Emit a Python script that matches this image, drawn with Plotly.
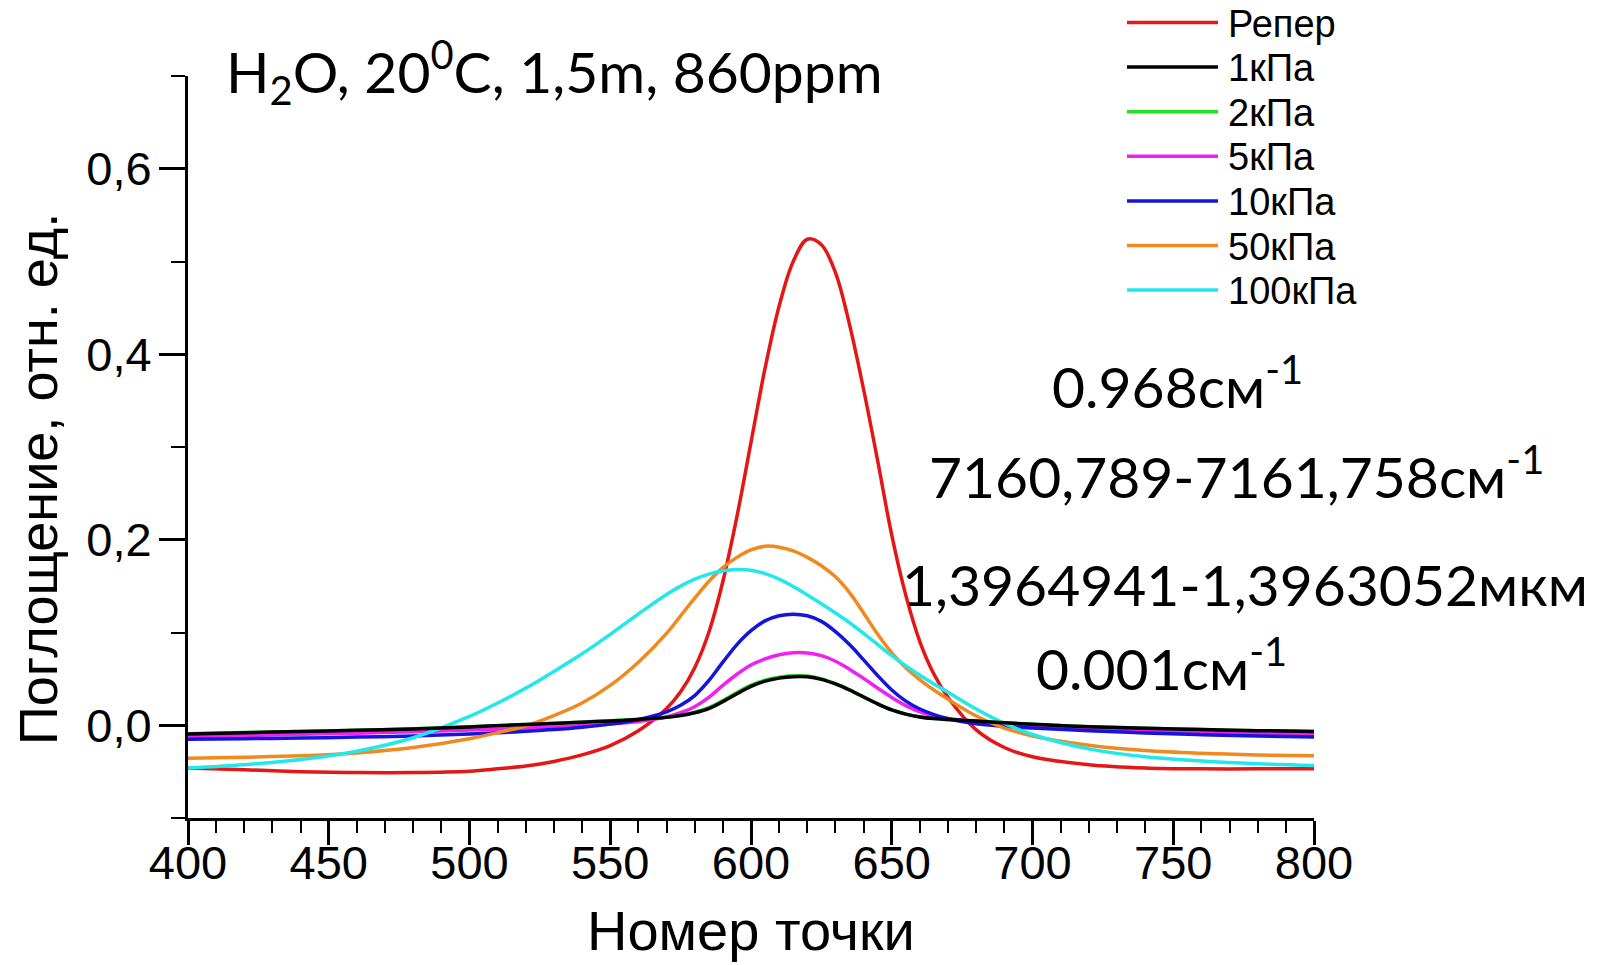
import plotly.graph_objects as go

# Номер точки (x) sample positions
point = [400, 420, 440, 460, 480, 500, 510, 520, 530, 540, 550, 560, 570, 575, 580,
         585, 590, 595, 600, 605, 610, 615, 620, 625, 630, 635, 640, 645, 650, 655,
         660, 665, 670, 680, 690, 700, 720, 740, 760, 780, 800]

reper = [-0.0460, -0.0480, -0.0500, -0.0510, -0.0510, -0.0495, -0.0470, -0.0440, -0.0390, -0.0320,
         -0.0220, -0.0060, 0.0180, 0.0360, 0.0620, 0.1000, 0.1550, 0.2250, 0.3050, 0.3850,
         0.4520, 0.5000, 0.5240, 0.5180, 0.4880, 0.4320, 0.3620, 0.2850, 0.2050, 0.1400,
         0.0900, 0.0550, 0.0300, -0.0050, -0.0240, -0.0340, -0.0425, -0.0460, -0.0470, -0.0470,
         -0.0470]

kpa1 = [-0.0093, -0.0080, -0.0068, -0.0055, -0.0040, -0.0018, -0.0005, 0.0008, 0.0020, 0.0033,
        0.0047, 0.0063, 0.0085, 0.0105, 0.0135, 0.0180, 0.0255, 0.0340, 0.0420, 0.0475,
        0.0508, 0.0524, 0.0522, 0.0495, 0.0445, 0.0380, 0.0305, 0.0230, 0.0165, 0.0120,
        0.0090, 0.0072, 0.0062, 0.0045, 0.0027, 0.0010, -0.0015, -0.0032, -0.0046, -0.0058,
        -0.0068]

kpa2 = [-0.0092, -0.0079, -0.0067, -0.0054, -0.0039, -0.0017, -0.0004, 0.0009, 0.0021, 0.0034,
        0.0048, 0.0065, 0.0088, 0.0110, 0.0142, 0.0190, 0.0266, 0.0352, 0.0432, 0.0486,
        0.0518, 0.0533, 0.0530, 0.0500, 0.0448, 0.0382, 0.0306, 0.0230, 0.0165, 0.0120,
        0.0090, 0.0072, 0.0062, 0.0045, 0.0027, 0.0010, -0.0015, -0.0032, -0.0046, -0.0058,
        -0.0068]

kpa5 = [-0.0120, -0.0110, -0.0098, -0.0085, -0.0070, -0.0052, -0.0042, -0.0030, -0.0018, -0.0004,
        0.0014, 0.0040, 0.0090, 0.0135, 0.0200, 0.0300, 0.0430, 0.0550, 0.0650, 0.0715,
        0.0760, 0.0782, 0.0780, 0.0750, 0.0690, 0.0605, 0.0505, 0.0400, 0.0300, 0.0212,
        0.0145, 0.0100, 0.0072, 0.0040, 0.0015, -0.0005, -0.0038, -0.0060, -0.0075, -0.0087,
        -0.0096]

kpa10 = [-0.0150, -0.0145, -0.0138, -0.0128, -0.0115, -0.0095, -0.0082, -0.0066, -0.0047, -0.0022,
         0.0012, 0.0062, 0.0145, 0.0215, 0.0320, 0.0480, 0.0680, 0.0870, 0.1020, 0.1125,
         0.1180, 0.1197, 0.1180, 0.1120, 0.1010, 0.0870, 0.0705, 0.0535, 0.0380, 0.0260,
         0.0175, 0.0115, 0.0070, 0.0015, -0.0012, -0.0030, -0.0058, -0.0083, -0.0102, -0.0117,
         -0.0128]

kpa50 = [-0.0355, -0.0345, -0.0330, -0.0298, -0.0240, -0.0145, -0.0080, -0.0005, 0.0105, 0.0240,
         0.0430, 0.0680, 0.0990, 0.1180, 0.1370, 0.1550, 0.1700, 0.1810, 0.1890, 0.1930,
         0.1920, 0.1880, 0.1810, 0.1720, 0.1600, 0.1430, 0.1210, 0.0980, 0.0780, 0.0620,
         0.0490, 0.0380, 0.0280, 0.0100, -0.0030, -0.0115, -0.0215, -0.0272, -0.0302, -0.0320,
         -0.0330]

kpa100 = [-0.0460, -0.0425, -0.0370, -0.0280, -0.0135, 0.0095, 0.0240, 0.0400, 0.0580, 0.0770,
          0.0980, 0.1200, 0.1410, 0.1500, 0.1575, 0.1630, 0.1665, 0.1680, 0.1672, 0.1635,
          0.1575, 0.1495, 0.1405, 0.1310, 0.1210, 0.1105, 0.0990, 0.0870, 0.0750, 0.0640,
          0.0540, 0.0445, 0.0355, 0.0175, 0.0020, -0.0100, -0.0255, -0.0340, -0.0385, -0.0415,
          -0.0434]

series_names = ["Репер", "1кПа", "2кПа", "5кПа", "10кПа", "50кПа", "100кПа"]
series_values = [reper, kpa1, kpa2, kpa5, kpa10, kpa50, kpa100]
series_colors = ["#e51616", "#000000", "#22e022", "#ee22ee", "#1414dc", "#f08a1e", "#22e8ec"]
draw_order = [0, 2, 3, 4, 5, 6, 1]

x_ticks = [400, 450, 500, 550, 600, 650, 700, 750, 800]
y_ticks = [0.0, 0.2, 0.4, 0.6]
y_tick_text = ["0,0", "0,2", "0,4", "0,6"]
y_minor = [-0.1, 0.1, 0.3, 0.5, 0.7]

notes = ["0.968см<sup>-1</sup>",
         "7160,789-7161,758см<sup>-1</sup>",
         "1,3964941-1,3963052мкм",
         "0.001см<sup>-1</sup>"]

W, H = 1602, 965
L, R, T, B = 188, 1314, 76, 818


def px(xp):
    return (xp - L) / (R - L)


def py(yp):
    return (B - yp) / (B - T)


fig = go.Figure()
for i in draw_order:
    fig.add_trace(go.Scatter(
        x=point, y=series_values[i], mode="lines", name=series_names[i],
        line=dict(color=series_colors[i], width=3.5, shape="spline", smoothing=1.0),
        showlegend=False, hoverinfo="skip"))

axis_font = dict(family="Liberation Sans, Arial, sans-serif", size=47, color="black")

fig.update_xaxes(
    range=[400, 800], tickvals=x_ticks, ticks="outside", ticklen=24, tickwidth=2.5,
    tickcolor="black", showline=True, linewidth=3, linecolor="black",
    showgrid=False, zeroline=False, tickfont=axis_font, ticklabelstandoff=-22,
    minor=dict(dtick=10, tick0=400, ticks="outside", ticklen=12, tickwidth=2,
               tickcolor="black", showgrid=False))
fig.update_yaxes(
    range=[-0.1, 0.7], tickvals=y_ticks, ticktext=y_tick_text, ticks="outside",
    ticklen=26, tickwidth=2.5, tickcolor="black", showline=True, linewidth=3,
    linecolor="black", showgrid=False, zeroline=False, tickfont=axis_font,
    ticklabelstandoff=-2,
    minor=dict(tickvals=y_minor, ticks="outside", ticklen=14, tickwidth=2,
               tickcolor="black", showgrid=False))

annotations = []
# axis titles
annotations.append(dict(text="Номер точки", x=px(751), y=py(930), xref="paper", yref="paper",
                        xanchor="center", yanchor="middle", showarrow=False,
                        font=dict(family="Liberation Sans, Arial", size=56, color="black")))
annotations.append(dict(text="Поглощение, отн. ед.", x=px(38), y=py(479), xref="paper",
                        yref="paper", xanchor="center", yanchor="middle", textangle=-90,
                        showarrow=False,
                        font=dict(family="Liberation Sans, Arial", size=54, color="black")))
# heading
annotations.append(dict(text="H<sub>2</sub>O, 20<sup>0</sup>C, 1,5m, 860ppm", x=px(224),
                        y=py(72), xref="paper", yref="paper", xanchor="left",
                        yanchor="middle", showarrow=False,
                        font=dict(family="Lato, Open Sans, sans-serif", size=57,
                                  color="black")))
# spectral notes
note_pos = [(1177, 382), (1236, 472), (1245, 584), (1161, 664)]
for txt, (nx, ny) in zip(notes, note_pos):
    annotations.append(dict(text=txt, x=px(nx), y=py(ny), xref="paper", yref="paper",
                            xanchor="center", yanchor="middle", showarrow=False,
                            font=dict(family="Lato, Open Sans, sans-serif", size=57,
                                      color="black")))

# legend
shapes = []
leg_x0, leg_x1, leg_tx, leg_y0, leg_dy = 1127, 1218, 1226, 22.5, 44.6
for i, (name, color) in enumerate(zip(series_names, series_colors)):
    yy = leg_y0 + i * leg_dy
    shapes.append(dict(type="line", xref="paper", yref="paper", x0=px(leg_x0), x1=px(leg_x1),
                       y0=py(yy), y1=py(yy), line=dict(color=color, width=3.5)))
    annotations.append(dict(text=name, x=px(leg_tx), y=py(yy + 1), xref="paper", yref="paper",
                            xanchor="left", yanchor="middle", showarrow=False,
                            font=dict(family="Liberation Sans, Arial", size=38,
                                      color="black")))

fig.update_layout(
    width=W, height=H, margin=dict(l=L, r=W - R, t=T, b=H - B),
    plot_bgcolor="white", paper_bgcolor="white", showlegend=False,
    annotations=annotations, shapes=shapes)

fig.write_html("out.html")
